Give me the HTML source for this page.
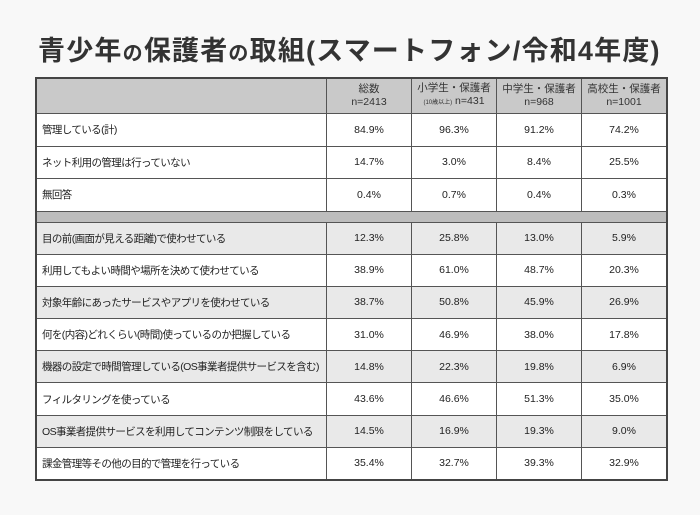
<!DOCTYPE html>
<html><head><meta charset="utf-8"><style>
body{margin:0;background:#f8f8f8;width:700px;height:515px;overflow:hidden;font-family:"Liberation Sans","Noto Sans CJK JP",sans-serif;color:#222}
h1{position:absolute;left:38px;top:29px;margin:0;font-size:27px;font-weight:bold;letter-spacing:1.2px;color:#333;white-space:nowrap}
h1 small{font-size:20px}
table{position:absolute;left:35px;top:77px;border-collapse:collapse;border:2px solid #444;table-layout:fixed}
td{border:1.5px solid #555;font-size:10.5px;padding:0;text-align:center;white-space:nowrap;overflow:hidden}
td.l{text-align:left;padding-left:5px;width:284px;letter-spacing:-0.6px}
td.n{width:84px}
tr.h td{background:#c9c9c9;height:34px;font-size:10.5px;line-height:13px;color:#333}
tr.r td{height:31.5px;background:#fff}
tr.g td{background:#e9e9e9}
tr.s td{background:#bdbdbd;height:10px}
tr.b td{height:31.2px}
</style></head><body>
<h1>青少年<small>の</small>保護者<small>の</small>取組(スマートフォン/令和4年度)</h1>
<table>
<tr class="h"><td class="l"></td><td class="n">総数<br>n=2413</td><td class="n">小学生・保護者<br><span style="font-size:6px">(10歳以上)</span> n=431</td><td class="n">中学生・保護者<br>n=968</td><td class="n">高校生・保護者<br>n=1001</td></tr>
<tr class="r"><td class="l">管理している(計)</td><td>84.9%</td><td>96.3%</td><td>91.2%</td><td>74.2%</td></tr>
<tr class="r"><td class="l">ネット利用の管理は行っていない</td><td>14.7%</td><td>3.0%</td><td>8.4%</td><td>25.5%</td></tr>
<tr class="r"><td class="l">無回答</td><td>0.4%</td><td>0.7%</td><td>0.4%</td><td>0.3%</td></tr>
<tr class="s"><td colspan="5"></td></tr>
<tr class="r b g"><td class="l">目の前(画面が見える距離)で使わせている</td><td>12.3%</td><td>25.8%</td><td>13.0%</td><td>5.9%</td></tr>
<tr class="r b"><td class="l">利用してもよい時間や場所を決めて使わせている</td><td>38.9%</td><td>61.0%</td><td>48.7%</td><td>20.3%</td></tr>
<tr class="r b g"><td class="l">対象年齢にあったサービスやアプリを使わせている</td><td>38.7%</td><td>50.8%</td><td>45.9%</td><td>26.9%</td></tr>
<tr class="r b"><td class="l">何を(内容)どれくらい(時間)使っているのか把握している</td><td>31.0%</td><td>46.9%</td><td>38.0%</td><td>17.8%</td></tr>
<tr class="r b g"><td class="l">機器の設定で時間管理している(OS事業者提供サービスを含む)</td><td>14.8%</td><td>22.3%</td><td>19.8%</td><td>6.9%</td></tr>
<tr class="r b"><td class="l">フィルタリングを使っている</td><td>43.6%</td><td>46.6%</td><td>51.3%</td><td>35.0%</td></tr>
<tr class="r b g"><td class="l">OS事業者提供サービスを利用してコンテンツ制限をしている</td><td>14.5%</td><td>16.9%</td><td>19.3%</td><td>9.0%</td></tr>
<tr class="r b"><td class="l">課金管理等その他の目的で管理を行っている</td><td>35.4%</td><td>32.7%</td><td>39.3%</td><td>32.9%</td></tr>
</table>
</body></html>
